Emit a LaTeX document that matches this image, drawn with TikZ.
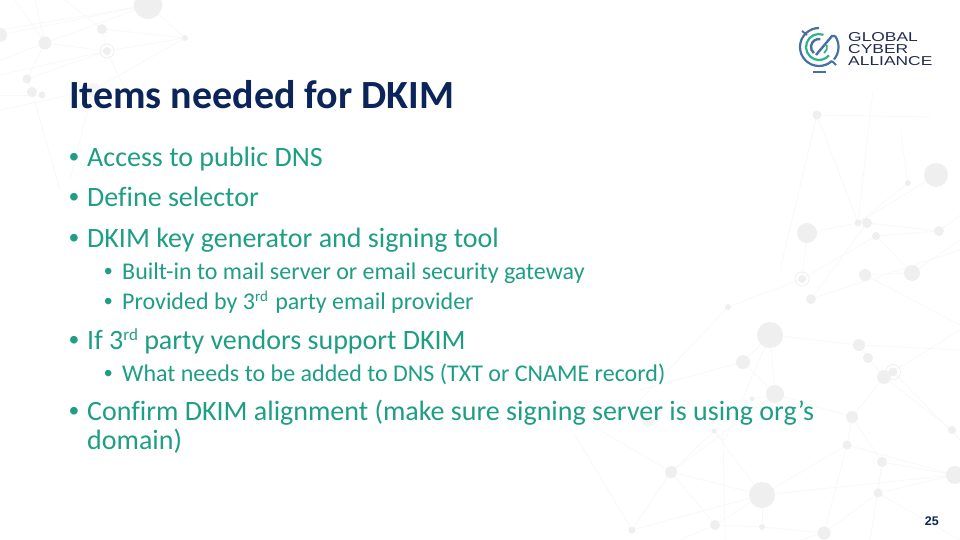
\documentclass[tikz,border=0pt]{standalone}
\usepackage{fontspec}
\setmainfont[Ligatures=NoCommon]{Carlito}
\newfontfamily\logofont[FakeStretch=1.35]{Liberation Sans}
\newfontfamily\numfont{Liberation Sans}
\definecolor{teal1}{HTML}{1E9E85}
\definecolor{navy1}{HTML}{0B2459}
\definecolor{dotc}{HTML}{EFEFEF}
\definecolor{dotf}{HTML}{F5F5F5}
\definecolor{webc}{HTML}{F8F8F8}
\definecolor{logob}{HTML}{4470A6}
\definecolor{logog}{HTML}{2FB18C}
\definecolor{logot}{HTML}{222C50}
\tikzset{
  titletext/.style={anchor=base west,inner sep=0pt,text=navy1,font=\fontsize{40}{44}\selectfont\bfseries},
  bodytext/.style={anchor=base west,inner sep=0pt,text=teal1,font=\fontsize{28}{32}\selectfont},
  subtext/.style={anchor=base west,inner sep=0pt,text=teal1,font=\fontsize{24}{28}\selectfont},
  bodybul/.style={anchor=base west,inner sep=0pt,text=teal1,font=\numfont\fontsize{28}{32}\selectfont},
  subbul/.style={anchor=base west,inner sep=0pt,text=teal1,font=\numfont\fontsize{24}{28}\selectfont},
  logotext/.style={anchor=base west,inner sep=0pt,text=logot,font=\logofont\fontsize{12.9}{14}\selectfont},
  web/.style={draw=webc,line width=.7pt},
}
\newcommand{\dotsat}[3]{\fill[dotc] (#1,#2) circle[radius=#3];}
\newcommand{\ringat}[3]{\fill[dotc] (#1,#2) circle[radius=#3];\draw[dotc,line width=.8pt] (#1,#2) circle[radius=#3+3];}
% options, radius, screen start angle, screen end angle (centre of the logo globe)
\newcommand{\logoarc}[4]{\draw[#1] ([shift={(-#3:#2)}]819,47) arc[start angle=-#3,end angle=-#4,radius=#2];}
\newcommand{\bodysup}[1]{\raisebox{9pt}{\fontsize{17}{17}\selectfont #1}}
\newcommand{\subsup}[1]{\raisebox{8pt}{\fontsize{15}{15}\selectfont #1}\hspace{2pt}}
\begin{document}
\begin{tikzpicture}[x=1pt,y=-1pt]
\useasboundingbox (0,0) rectangle (960,540);
\fill[white] (0,0) rectangle (960,540);
% background network: lines
\foreach \a/\b/\c/\d in {
 0/35/148/5, 45/43/148/5, 102/29/185/38, 148/5/185/38, 45/43/107/51, 0/75/107/51, 107/51/185/38, 102/29/107/51,
 0/95/42/95, 27/79/32/92, 32/92/60/190, 27/79/107/51, 45/43/27/79, 0/110/93/90, 93/90/185/38, 93/90/70/180, 0/60/45/43, 15/0/45/43, 35/0/45/43, 0/30/148/5, 65/0/102/29, 107/51/130/100,
 817/115/858/223, 817/115/930/117, 817/115/780/270, 873/90/858/223, 900/130/908/183, 858/223/936/175, 908/183/858/223,
 807/233/858/223, 807/233/802/279, 867/223/939/231, 876/236/939/231, 876/236/912/273, 939/231/960/215, 865/275/912/273,
 912/273/960/240, 865/275/960/325, 802/279/876/236, 811/299/867/223, 728/307/802/279, 728/307/640/400, 811/299/960/250,
 770/335/743/362, 770/335/859/345, 770/335/775/394, 859/345/868/358, 868/358/884/377, 859/345/960/350, 743/362/640/390,
 743/362/775/394, 775/394/852/417, 884/377/852/417, 893/372/960/440, 884/377/960/330, 775/394/671/472, 752/399/714/431,
 752/399/775/394, 714/431/671/472, 714/431/762/495, 671/472/632/530, 671/472/762/495, 671/472/715/525, 852/417/882/462, 852/417/847/445,
 847/445/762/495, 847/445/955/475, 882/462/955/475, 882/462/878/493, 878/493/955/475, 762/495/955/475, 762/495/762/527, 762/495/715/525,
 762/495/632/530, 762/527/824/533, 715/525/762/527, 824/533/878/493, 824/533/847/445, 878/493/960/540, 632/530/575/435, 671/472/600/430, 952/430/960/440,
 715/525/680/540, 824/533/800/540, 770/335/725/440, 723/440/714/431, 723/431/725/540, 952/430/884/377, 882/462/870/540}
 {\draw[web] (\a,\b) -- (\c,\d);}
% background network: dots
\foreach \x/\y/\r in {148/5/14, 0/35/7, 45/43/6.5, 102/29/5, 185/38/3, 27/79/4.5, 32/92/5, 42/95/3.5,
 817/115/4.5, 936/175/12, 908/183/3, 807/233/10, 858/223/3.5, 867/223/5, 876/236/4, 939/231/5, 865/275/6, 912/273/8, 811/299/5, 728/307/3,
 770/335/13, 743/362/7, 859/345/6, 868/358/5, 884/377/7, 775/394/9, 752/399/2.5, 852/417/6, 847/445/4.5, 714/431/2.5, 671/472/6, 882/462/5, 952/430/4, 955/475/9, 878/493/4.5, 762/495/13, 715/525/5, 762/527/3, 824/533/6.5, 632/530/3.5}
 {\dotsat{\x}{\y}{\r}}
\fill[dotf] (93,90) circle[radius=7];
\fill[dotf] (648,421) circle[radius=6];
\ringat{107}{51}{4}
\ringat{802}{279}{4}
\ringat{893}{372}{4.5}
% logo
\logoarc{logob,line width=2.2pt}{19}{90}{313}
\logoarc{logob,line width=2.2pt}{19.5}{-40}{35}
\draw[logob,line width=1.8pt] (802,31) -- (807,35);
\draw[logob,line width=1.8pt] (832,61) -- (836,65);
\draw[logob,line width=2.2pt] (813,72) -- (826,72);
\logoarc{logog,line width=2.2pt}{13}{70}{320}
\logoarc{logob,line width=2.4pt}{8}{80}{230}
\draw[logob,line width=2.4pt] (816,55) -- (832,36) -- (835,36);
\logoarc{logog,line width=1.8pt}{8}{-50}{15}
% logo text
\node[logotext] (logoa) at (848,41.5) {GLOBAL};
\node[logotext] (logob) at (848,54) {CYBER};
\node[logotext] (logoc) at (848,65.5) {ALLIANCE};
% text
\node[titletext] (title) at (69,109) {Items needed for DKIM};
\node[bodybul] (b1m) at (69,166.7) {•};
\node[bodytext] (b1) at (87,166.7) {Access to public DNS};
\node[bodybul] (b2m) at (69,206.7) {•};
\node[bodytext] (b2) at (87,206.7) {Define selector};
\node[bodybul] (b3m) at (69,247.7) {•};
\node[bodytext] (b3) at (87,247.7) {DKIM key generator and signing tool};
\node[subbul] (s1m) at (104,279.5) {•};
\node[subtext] (s1) at (122,279.5) {Built-in to mail server or email security gateway};
\node[subbul] (s2m) at (104,309.5) {•};
\node[subtext] (s2) at (122,309.5) {Provided by 3\subsup{rd} party email provider};
\node[bodybul] (b4m) at (69,349.7) {•};
\node[bodytext] (b4) at (87,349.7) {If 3\bodysup{rd} party vendors support DKIM};
\node[subbul] (s3m) at (104,381.5) {•};
\node[subtext] (s3) at (122,381.5) {What needs to be added to DNS (TXT or CNAME record)};
\node[bodybul] (b5m) at (69,420.7) {•};
\node[bodytext] (b5) at (87,420.7) {Confirm DKIM alignment (make sure signing server is using org’s};
\node[bodytext] (b5b) at (87,449.7) {domain)};
\node[anchor=base east,inner sep=0pt,text=navy1,font=\numfont\bfseries\fontsize{12.5}{14}\selectfont] (pg) at (939,525.5) {25};
\end{tikzpicture}
\end{document}
